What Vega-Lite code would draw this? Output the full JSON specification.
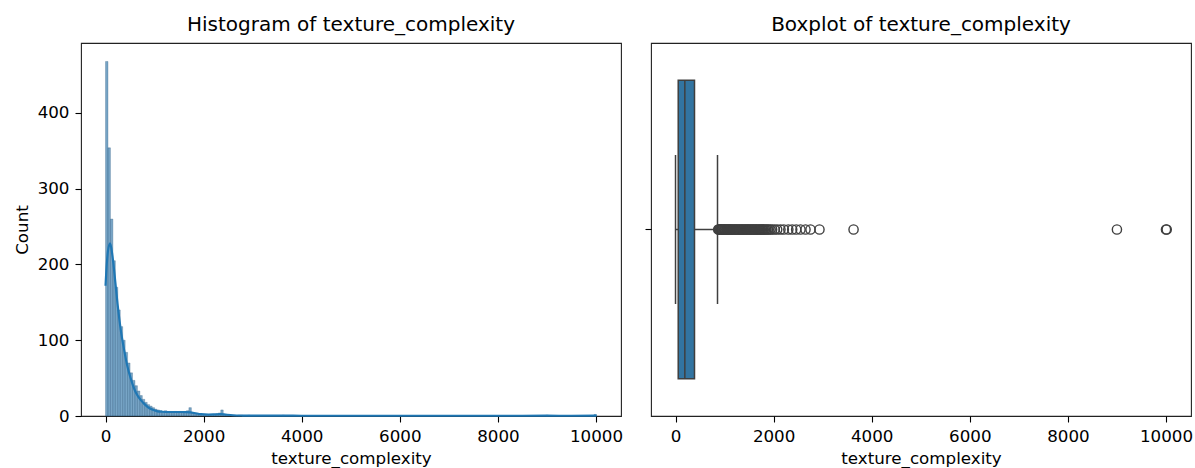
{
  "$schema": "https://vega.github.io/schema/vega-lite/v6.json",
  "background": "white",
  "padding": {"left": 13, "top": 14, "right": 0, "bottom": 0},
  "config": {
    "font": "DejaVu Sans",
    "view": {"stroke": "#222", "strokeWidth": 1.1},
    "axis": {"grid": false, "domain": false, "labelFont": "DejaVu Sans", "labelFontSize": 16.7, "labelColor": "#000", "tickColor": "#000", "tickSize": 6, "tickWidth": 1.1, "titleFont": "DejaVu Sans", "titleFontSize": 16.7, "titleFontWeight": "normal", "titleColor": "#000", "labelPadding": 6, "titlePadding": 6},
    "title": {"font": "DejaVu Sans", "fontSize": 20, "fontWeight": "normal", "color": "#000", "offset": 8},
    "concat": {"spacing": 19}
  },
  "datasets": {
    "hist": [
      {"bin_start": 0, "bin_end": 50, "count": 468},
      {"bin_start": 50, "bin_end": 100, "count": 354},
      {"bin_start": 100, "bin_end": 150, "count": 260},
      {"bin_start": 150, "bin_end": 200, "count": 205},
      {"bin_start": 200, "bin_end": 250, "count": 170},
      {"bin_start": 250, "bin_end": 300, "count": 140},
      {"bin_start": 300, "bin_end": 350, "count": 118},
      {"bin_start": 350, "bin_end": 400, "count": 100},
      {"bin_start": 400, "bin_end": 450, "count": 84},
      {"bin_start": 450, "bin_end": 500, "count": 70},
      {"bin_start": 500, "bin_end": 550, "count": 57},
      {"bin_start": 550, "bin_end": 600, "count": 47},
      {"bin_start": 600, "bin_end": 650, "count": 40},
      {"bin_start": 650, "bin_end": 700, "count": 33},
      {"bin_start": 700, "bin_end": 750, "count": 27},
      {"bin_start": 750, "bin_end": 800, "count": 22},
      {"bin_start": 800, "bin_end": 850, "count": 18},
      {"bin_start": 850, "bin_end": 900, "count": 15},
      {"bin_start": 900, "bin_end": 950, "count": 13},
      {"bin_start": 950, "bin_end": 1000, "count": 11},
      {"bin_start": 1000, "bin_end": 1050, "count": 9},
      {"bin_start": 1050, "bin_end": 1100, "count": 8},
      {"bin_start": 1100, "bin_end": 1150, "count": 7},
      {"bin_start": 1150, "bin_end": 1200, "count": 6},
      {"bin_start": 1200, "bin_end": 1250, "count": 7},
      {"bin_start": 1250, "bin_end": 1300, "count": 5},
      {"bin_start": 1300, "bin_end": 1350, "count": 6},
      {"bin_start": 1350, "bin_end": 1400, "count": 5},
      {"bin_start": 1400, "bin_end": 1450, "count": 6},
      {"bin_start": 1450, "bin_end": 1500, "count": 5},
      {"bin_start": 1500, "bin_end": 1550, "count": 6},
      {"bin_start": 1550, "bin_end": 1600, "count": 5},
      {"bin_start": 1600, "bin_end": 1650, "count": 5},
      {"bin_start": 1650, "bin_end": 1700, "count": 7},
      {"bin_start": 1700, "bin_end": 1750, "count": 11},
      {"bin_start": 1750, "bin_end": 1800, "count": 4},
      {"bin_start": 1800, "bin_end": 1850, "count": 4},
      {"bin_start": 1850, "bin_end": 1900, "count": 3},
      {"bin_start": 1900, "bin_end": 1950, "count": 3},
      {"bin_start": 1950, "bin_end": 2000, "count": 2},
      {"bin_start": 2000, "bin_end": 2050, "count": 2},
      {"bin_start": 2050, "bin_end": 2100, "count": 2},
      {"bin_start": 2100, "bin_end": 2150, "count": 1},
      {"bin_start": 2150, "bin_end": 2200, "count": 2},
      {"bin_start": 2200, "bin_end": 2250, "count": 2},
      {"bin_start": 2250, "bin_end": 2300, "count": 3},
      {"bin_start": 2300, "bin_end": 2350, "count": 4},
      {"bin_start": 2350, "bin_end": 2400, "count": 8},
      {"bin_start": 2400, "bin_end": 2450, "count": 2},
      {"bin_start": 2450, "bin_end": 2500, "count": 1},
      {"bin_start": 2500, "bin_end": 2550, "count": 1},
      {"bin_start": 2550, "bin_end": 2600, "count": 1},
      {"bin_start": 2600, "bin_end": 2650, "count": 1},
      {"bin_start": 2700, "bin_end": 2750, "count": 1},
      {"bin_start": 2750, "bin_end": 2800, "count": 1},
      {"bin_start": 2900, "bin_end": 2950, "count": 1},
      {"bin_start": 3600, "bin_end": 3650, "count": 1},
      {"bin_start": 8980, "bin_end": 9030, "count": 1},
      {"bin_start": 9960, "bin_end": 10010, "count": 2}
    ],
    "kde": [
      {"value": 0, "density": 172},
      {"value": 25, "density": 200},
      {"value": 50, "density": 218},
      {"value": 94, "density": 228},
      {"value": 140, "density": 212},
      {"value": 176, "density": 192},
      {"value": 245, "density": 148},
      {"value": 312, "density": 113},
      {"value": 380, "density": 87},
      {"value": 448, "density": 65},
      {"value": 516, "density": 49},
      {"value": 584, "density": 36},
      {"value": 652, "density": 27},
      {"value": 720, "density": 21},
      {"value": 790, "density": 16},
      {"value": 856, "density": 12},
      {"value": 950, "density": 8.5},
      {"value": 1060, "density": 6.2},
      {"value": 1160, "density": 5.6},
      {"value": 1264, "density": 5.3},
      {"value": 1400, "density": 5.3},
      {"value": 1536, "density": 5.3},
      {"value": 1650, "density": 5.0},
      {"value": 1807, "density": 4.0},
      {"value": 1944, "density": 2.4},
      {"value": 2100, "density": 1.9},
      {"value": 2250, "density": 2.2},
      {"value": 2350, "density": 2.4},
      {"value": 2450, "density": 1.8},
      {"value": 2600, "density": 1.0},
      {"value": 2800, "density": 0.6},
      {"value": 3000, "density": 0.45},
      {"value": 3300, "density": 0.4},
      {"value": 3640, "density": 0.5},
      {"value": 4000, "density": 0.35},
      {"value": 5000, "density": 0.3},
      {"value": 6000, "density": 0.3},
      {"value": 7000, "density": 0.3},
      {"value": 8000, "density": 0.3},
      {"value": 9000, "density": 0.4},
      {"value": 9500, "density": 0.3},
      {"value": 10000, "density": 0.4},
      {"value": 10010, "density": 0.4}
    ],
    "box": [
      {"variable": "texture_complexity", "lo": 0, "q1": 55, "median": 190, "q3": 387, "hi": 856}
    ],
    "outliers": [
      {"variable": "texture_complexity", "value": 870},
      {"variable": "texture_complexity", "value": 885},
      {"variable": "texture_complexity", "value": 900},
      {"variable": "texture_complexity", "value": 915},
      {"variable": "texture_complexity", "value": 930},
      {"variable": "texture_complexity", "value": 945},
      {"variable": "texture_complexity", "value": 960},
      {"variable": "texture_complexity", "value": 975},
      {"variable": "texture_complexity", "value": 990},
      {"variable": "texture_complexity", "value": 1005},
      {"variable": "texture_complexity", "value": 1020},
      {"variable": "texture_complexity", "value": 1035},
      {"variable": "texture_complexity", "value": 1050},
      {"variable": "texture_complexity", "value": 1065},
      {"variable": "texture_complexity", "value": 1080},
      {"variable": "texture_complexity", "value": 1095},
      {"variable": "texture_complexity", "value": 1110},
      {"variable": "texture_complexity", "value": 1125},
      {"variable": "texture_complexity", "value": 1140},
      {"variable": "texture_complexity", "value": 1160},
      {"variable": "texture_complexity", "value": 1180},
      {"variable": "texture_complexity", "value": 1200},
      {"variable": "texture_complexity", "value": 1220},
      {"variable": "texture_complexity", "value": 1240},
      {"variable": "texture_complexity", "value": 1260},
      {"variable": "texture_complexity", "value": 1280},
      {"variable": "texture_complexity", "value": 1300},
      {"variable": "texture_complexity", "value": 1320},
      {"variable": "texture_complexity", "value": 1340},
      {"variable": "texture_complexity", "value": 1360},
      {"variable": "texture_complexity", "value": 1380},
      {"variable": "texture_complexity", "value": 1400},
      {"variable": "texture_complexity", "value": 1420},
      {"variable": "texture_complexity", "value": 1440},
      {"variable": "texture_complexity", "value": 1460},
      {"variable": "texture_complexity", "value": 1480},
      {"variable": "texture_complexity", "value": 1500},
      {"variable": "texture_complexity", "value": 1520},
      {"variable": "texture_complexity", "value": 1540},
      {"variable": "texture_complexity", "value": 1560},
      {"variable": "texture_complexity", "value": 1580},
      {"variable": "texture_complexity", "value": 1600},
      {"variable": "texture_complexity", "value": 1620},
      {"variable": "texture_complexity", "value": 1640},
      {"variable": "texture_complexity", "value": 1660},
      {"variable": "texture_complexity", "value": 1680},
      {"variable": "texture_complexity", "value": 1700},
      {"variable": "texture_complexity", "value": 1720},
      {"variable": "texture_complexity", "value": 1740},
      {"variable": "texture_complexity", "value": 1760},
      {"variable": "texture_complexity", "value": 1780},
      {"variable": "texture_complexity", "value": 1800},
      {"variable": "texture_complexity", "value": 1825},
      {"variable": "texture_complexity", "value": 1850},
      {"variable": "texture_complexity", "value": 1875},
      {"variable": "texture_complexity", "value": 1900},
      {"variable": "texture_complexity", "value": 1935},
      {"variable": "texture_complexity", "value": 1970},
      {"variable": "texture_complexity", "value": 2020},
      {"variable": "texture_complexity", "value": 2073},
      {"variable": "texture_complexity", "value": 2140},
      {"variable": "texture_complexity", "value": 2208},
      {"variable": "texture_complexity", "value": 2300},
      {"variable": "texture_complexity", "value": 2379},
      {"variable": "texture_complexity", "value": 2460},
      {"variable": "texture_complexity", "value": 2548},
      {"variable": "texture_complexity", "value": 2650},
      {"variable": "texture_complexity", "value": 2752},
      {"variable": "texture_complexity", "value": 2935},
      {"variable": "texture_complexity", "value": 3630},
      {"variable": "texture_complexity", "value": 9000},
      {"variable": "texture_complexity", "value": 10000},
      {"variable": "texture_complexity", "value": 10015}
    ]
  },
  "hconcat": [
    {
      "title": "Histogram of texture_complexity",
      "width": 540,
      "height": 373,
      "layer": [
        {
          "data": {"name": "hist"},
          "mark": {"type": "rect", "fill": "#3f7fae", "fillOpacity": 0.7, "stroke": "#2a5a7e", "strokeOpacity": 0.5, "strokeWidth": 0.6},
          "encoding": {
            "x": {"field": "bin_start", "type": "quantitative", "scale": {"domain": [-500, 10510], "nice": false, "zero": false}, "axis": {"values": [0, 2000, 4000, 6000, 8000, 10000], "format": "d", "title": "texture_complexity"}},
            "x2": {"field": "bin_end"},
            "y": {"field": "count", "type": "quantitative", "scale": {"domain": [0, 492.4], "nice": false}, "axis": {"values": [0, 100, 200, 300, 400], "title": "Count"}},
            "y2": {"datum": 0}
          }
        },
        {
          "data": {"name": "kde"},
          "mark": {"type": "line", "color": "#1f77b4", "strokeWidth": 2.2, "interpolate": "monotone"},
          "encoding": {
            "x": {"field": "value", "type": "quantitative"},
            "y": {"field": "density", "type": "quantitative"}
          }
        }
      ]
    },
    {
      "title": "Boxplot of texture_complexity",
      "width": 540,
      "height": 373,
      "layer": [
        {
          "data": {"name": "box"},
          "mark": {"type": "rule", "color": "#3f3f3f", "strokeWidth": 1.5},
          "encoding": {
            "x": {"field": "q3", "type": "quantitative", "scale": {"domain": [-500, 10510], "nice": false, "zero": false}, "axis": {"values": [0, 2000, 4000, 6000, 8000, 10000], "format": "d", "title": "texture_complexity"}},
            "x2": {"field": "hi"},
            "y": {"field": "variable", "type": "nominal", "scale": {"paddingInner": 0, "paddingOuter": 0.125}, "axis": {"labels": false, "title": null}}
          }
        },
        {
          "data": {"name": "box"},
          "mark": {"type": "rule", "color": "#3f3f3f", "strokeWidth": 1.5},
          "encoding": {
            "x": {"field": "lo", "type": "quantitative"},
            "x2": {"field": "q1"},
            "y": {"field": "variable", "type": "nominal"}
          }
        },
        {
          "data": {"name": "box"},
          "mark": {"type": "bar", "fill": "#3274a1", "stroke": "#3f3f3f", "strokeWidth": 1.5},
          "encoding": {
            "x": {"field": "q1", "type": "quantitative"},
            "x2": {"field": "q3"},
            "y": {"field": "variable", "type": "nominal"}
          }
        },
        {
          "data": {"name": "box"},
          "mark": {"type": "tick", "color": "#3f3f3f", "size": 298, "thickness": 1.5, "opacity": 1},
          "encoding": {
            "x": {"field": "median", "type": "quantitative"},
            "y": {"field": "variable", "type": "nominal"}
          }
        },
        {
          "data": {"name": "box"},
          "mark": {"type": "tick", "color": "#3f3f3f", "size": 149, "thickness": 1.5, "opacity": 1},
          "encoding": {
            "x": {"field": "lo", "type": "quantitative"},
            "y": {"field": "variable", "type": "nominal"}
          }
        },
        {
          "data": {"name": "box"},
          "mark": {"type": "tick", "color": "#3f3f3f", "size": 149, "thickness": 1.5, "opacity": 1},
          "encoding": {
            "x": {"field": "hi", "type": "quantitative"},
            "y": {"field": "variable", "type": "nominal"}
          }
        },
        {
          "data": {"name": "outliers"},
          "mark": {"type": "point", "filled": false, "stroke": "#3f3f3f", "strokeWidth": 1.4, "size": 85, "opacity": 1},
          "encoding": {
            "x": {"field": "value", "type": "quantitative"},
            "y": {"field": "variable", "type": "nominal"}
          }
        }
      ]
    }
  ]
}
